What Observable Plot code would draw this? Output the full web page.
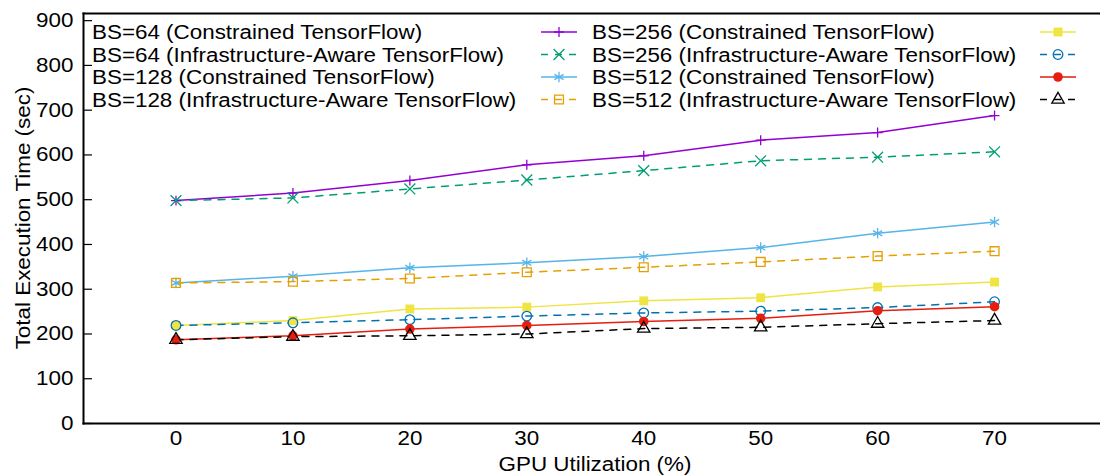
<!DOCTYPE html>
<html><head><meta charset="utf-8">
<script src="https://cdn.jsdelivr.net/npm/d3@7"></script>
<script src="https://cdn.jsdelivr.net/npm/@observablehq/plot@0.6"></script>
<style>
body{margin:0;background:#fff}
#chart svg{display:block;font-family:"Liberation Sans",Arial,sans-serif}
</style>
</head><body><div id="chart"></div>
<script>
// ---- data ----
const gpuUtil = [0, 10, 20, 30, 40, 50, 60, 70];
const bs64Constrained  = [498, 515, 543, 578, 598, 633, 650, 688];
const bs64Aware        = [498, 504, 524, 544, 565, 587, 595, 607];
const bs128Constrained = [314, 329, 348, 359, 373, 393, 425, 450];
const bs128Aware       = [314, 317, 324, 338, 349, 361, 374, 385];
const bs256Constrained = [219, 230, 256, 260, 274, 281, 305, 316];
const bs256Aware       = [219, 225, 232, 240, 247, 251, 259, 272];
const bs512Constrained = [187, 196, 211, 219, 228, 235, 252, 261];
const bs512Aware       = [187, 194, 196, 200, 212, 215, 223, 230];
const seriesNames = [
  "BS=64 (Constrained TensorFlow)",
  "BS=64 (Infrastructure-Aware TensorFlow)",
  "BS=128 (Constrained TensorFlow)",
  "BS=128 (Infrastructure-Aware TensorFlow)",
  "BS=256 (Constrained TensorFlow)",
  "BS=256 (Infrastructure-Aware TensorFlow)",
  "BS=512 (Constrained TensorFlow)",
  "BS=512 (Infrastructure-Aware TensorFlow)"
];
const seriesValues = [bs64Constrained, bs64Aware, bs128Constrained, bs128Aware,
                      bs256Constrained, bs256Aware, bs512Constrained, bs512Aware];
const yTicks = [0, 100, 200, 300, 400, 500, 600, 700, 800, 900];
const xTicks = [0, 10, 20, 30, 40, 50, 60, 70];
const xLabel = "GPU Utilization (%)";
const yLabel = "Total Execution Time (sec)";

// ---- styles ----
const styles = [
  {color: "#9400d3", dash: null,  symbol: "plus",     r: 3.3, filled: false},
  {color: "#009e73", dash: "7,7", symbol: "times",    r: 5,   filled: false},
  {color: "#56b4e9", dash: null,  symbol: "asterisk", r: 5,   filled: false},
  {color: "#e69f00", dash: "7,7", symbol: "square",   r: 5,   filled: false},
  {color: "#f0e442", dash: null,  symbol: "square",   r: 5,   filled: true},
  {color: "#0072b2", dash: "7,7", symbol: "circle",   r: 4.8, filled: false},
  {color: "#e51e10", dash: null,  symbol: "circle",   r: 4.8, filled: true},
  {color: "#000000", dash: "7,7", symbol: "triangle", r: 4.6, filled: false}
];

const rows = seriesNames.map((name, i) => gpuUtil.map((x, j) => ({series: name, x, y: seriesValues[i][j]})));

const W = 1100, H = 476;
const mL = 83, mR = 0, mT = 13, mB = 53;
const xDomain = [-7.91, 79.06];
const yDomain = [0, 916];
const fs = 20;

const marks = [];
rows.forEach((data, i) => {
  const s = styles[i];
  marks.push(Plot.line(data, {x: "x", y: "y", stroke: s.color, strokeWidth: 1.5, strokeDasharray: s.dash}));
});
rows.forEach((data, i) => {
  const s = styles[i];
  marks.push(Plot.dot(data, {x: "x", y: "y", symbol: () => s.symbol, r: s.r,
    stroke: s.filled ? "none" : s.color, fill: s.filled ? s.color : "none", strokeWidth: 1.3}));
});

const plot = Plot.plot({
  width: W, height: H,
  marginLeft: mL, marginRight: mR, marginTop: mT, marginBottom: mB,
  style: {fontFamily: '"Liberation Sans", Arial, sans-serif', fontSize: fs + "px", color: "#000", background: "#fff"},
  x: {domain: xDomain},
  y: {domain: yDomain},
  symbol: {type: "identity"},
  marks: [
    Plot.axisY({ticks: yTicks, tickSize: -9, tickPadding: 19, label: null, fontSize: fs, strokeWidth: 1.2}),
    Plot.axisX({ticks: xTicks, tickSize: 0, tickPadding: 7, label: null, fontSize: fs}),
    ...marks,
    Plot.frame({anchor: "top", strokeWidth: 2}),
    Plot.frame({anchor: "left", strokeWidth: 2}),
    Plot.frame({anchor: "bottom", strokeWidth: 2})
  ]
});
document.getElementById("chart").appendChild(plot);

// ---- axis titles & legend ----
const svg = d3.select(plot);
svg.append("text").attr("x", 595).attr("y", 464).attr("dy", "0.35em")
  .attr("text-anchor", "middle").attr("font-size", fs).attr("fill", "#000").text(xLabel);
svg.append("text").attr("transform", "translate(23,218) rotate(-90)").attr("dy", "0.35em")
  .attr("text-anchor", "middle").attr("font-size", fs).attr("fill", "#000").text(yLabel);

const symMap = {plus: d3.symbolPlus, times: d3.symbolTimes, asterisk: d3.symbolAsterisk,
  square: d3.symbolSquare, circle: d3.symbolCircle, triangle: d3.symbolTriangle};
const leg = svg.append("g");
seriesNames.forEach((name, i) => {
  const s = styles[i];
  const col = i < 4 ? 0 : 1, row = i % 4;
  const ty = 32 + row * 22.5;
  const tx = col ? 592 : 92;
  const sx = col ? 1040 : 541;
  leg.append("text").attr("x", tx).attr("y", ty).attr("dy", "0.35em")
    .attr("text-anchor", "start")
    .attr("font-size", fs).attr("fill", "#000").text(name);
  leg.append("line").attr("x1", sx).attr("x2", sx + 36).attr("y1", ty).attr("y2", ty)
    .attr("stroke", s.color).attr("stroke-width", 1.5).attr("stroke-dasharray", s.dash);
  leg.append("path").attr("transform", `translate(${sx + 18},${ty})`)
    .attr("d", d3.symbol(symMap[s.symbol], Math.PI * s.r * s.r)())
    .attr("stroke", s.filled ? "none" : s.color).attr("fill", s.filled ? s.color : "none")
    .attr("stroke-width", 1.3);
});

// stretch text horizontally to match the wide Helvetica rendering of the original
plot.querySelectorAll("text").forEach(t => {
  const w = t.getComputedTextLength();
  if (w > 0) { t.setAttribute("textLength", (w * 1.12).toFixed(1)); t.setAttribute("lengthAdjust", "spacingAndGlyphs"); }
});
</script>
</body></html>
